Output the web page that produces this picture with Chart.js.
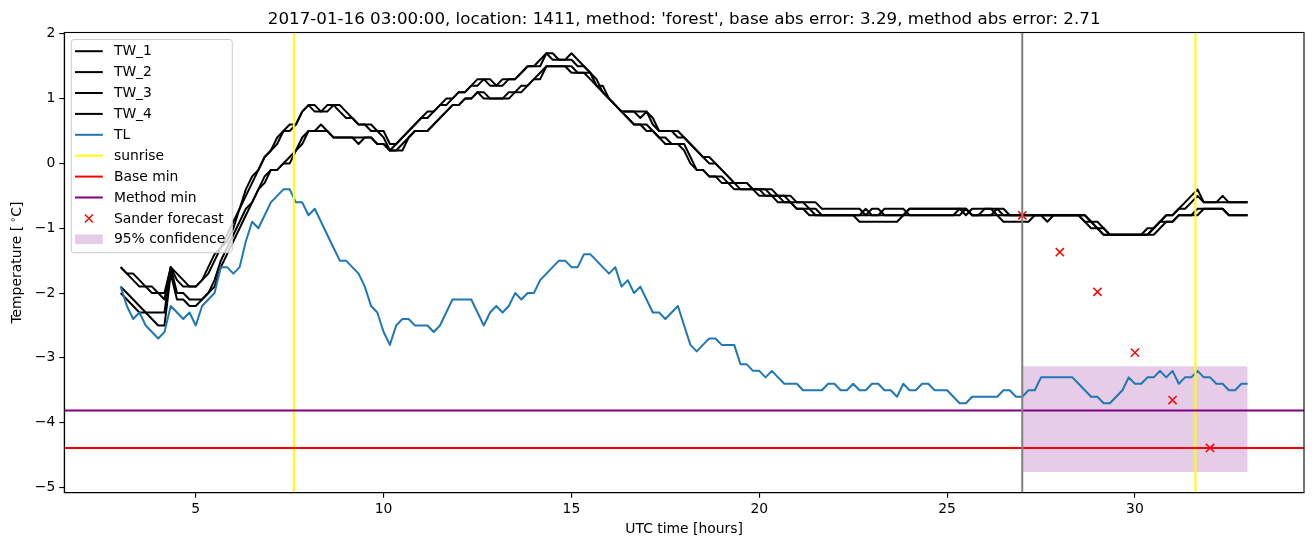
<!DOCTYPE html>
<html>
<head>
<meta charset="utf-8">
<script src="https://cdn.jsdelivr.net/npm/chart.js@4.4.1/dist/chart.umd.min.js"></script>
<style>
  html, body { margin: 0; padding: 0; background: #fff; }
  #wrap { width: 1313px; height: 547px; }
</style>
</head>
<body>
<div id="wrap"><canvas id="chart" width="1313" height="547"></canvas></div>
<script>
const titleText = "2017-01-16 03:00:00, location: 1411, method: 'forest', base abs error: 3.29, method abs error: 2.71";

// 10-minute observations from 03:00 to 33:00 UTC
const startHour = 3;
const stepHours = 1 / 6;

const tw1 = [
  -1.6, -1.7, -1.8, -1.9, -1.9, -2.0,
  -2.0, -2.0, -1.6, -1.7, -1.8, -1.9,
  -1.9, -1.8, -1.6, -1.4, -1.3, -1.2,
  -1.0, -0.7, -0.5, -0.3, -0.1, 0.1,
  0.2, 0.3, 0.5, 0.5, 0.6, 0.8,
  0.9, 0.9, 0.8, 0.8, 0.9, 0.9,
  0.8, 0.7, 0.6, 0.6, 0.6, 0.5,
  0.5, 0.3, 0.3, 0.4, 0.5, 0.6,
  0.7, 0.7, 0.8, 0.9, 1.0, 1.0,
  1.1, 1.1, 1.2, 1.2, 1.3, 1.3,
  1.2, 1.2, 1.3, 1.3, 1.4, 1.5,
  1.5, 1.5, 1.7, 1.7, 1.6, 1.6,
  1.6, 1.5, 1.5, 1.4, 1.2, 1.2,
  1.0, 0.9, 0.8, 0.8, 0.8, 0.8,
  0.8, 0.7, 0.5, 0.5, 0.5, 0.5,
  0.4, 0.3, 0.2, 0.1, 0.1, 0.0,
  -0.1, -0.2, -0.3, -0.3, -0.3, -0.4,
  -0.4, -0.4, -0.4, -0.5, -0.5, -0.5,
  -0.6, -0.6, -0.6, -0.6, -0.7, -0.7,
  -0.7, -0.7, -0.7, -0.7, -0.7, -0.8,
  -0.7, -0.7, -0.8, -0.8, -0.8, -0.8,
  -0.7, -0.7, -0.7, -0.7, -0.7, -0.7,
  -0.7, -0.7, -0.7, -0.8, -0.7, -0.7,
  -0.7, -0.7, -0.7, -0.8, -0.8, -0.8,
  -0.8, -0.8, -0.8, -0.8, -0.8, -0.8,
  -0.8, -0.8, -0.8, -0.8, -0.9, -1.0,
  -1.0, -1.1, -1.1, -1.1, -1.1, -1.1,
  -1.1, -1.1, -1.1, -1.0, -0.9, -0.8,
  -0.8, -0.7, -0.6, -0.5, -0.4, -0.6,
  -0.6, -0.6, -0.5, -0.6, -0.6, -0.6,
  -0.6
];
const tw2 = [
  -1.6, -1.7, -1.7, -1.8, -1.9, -1.9,
  -2.0, -2.1, -1.6, -1.8, -1.9, -1.9,
  -1.9, -1.8, -1.7, -1.5, -1.3, -1.1,
  -0.9, -0.7, -0.4, -0.2, -0.1, 0.1,
  0.2, 0.4, 0.5, 0.6, 0.6, 0.8,
  0.9, 0.8, 0.8, 0.9, 0.9, 0.8,
  0.7, 0.7, 0.6, 0.6, 0.5, 0.5,
  0.4, 0.2, 0.3, 0.4, 0.5, 0.6,
  0.7, 0.8, 0.8, 0.9, 0.9, 1.0,
  1.1, 1.1, 1.2, 1.3, 1.3, 1.2,
  1.2, 1.3, 1.3, 1.3, 1.4, 1.5,
  1.5, 1.6, 1.7, 1.6, 1.6, 1.6,
  1.7, 1.6, 1.5, 1.4, 1.3, 1.1,
  1.0, 0.9, 0.8, 0.8, 0.8, 0.7,
  0.8, 0.6, 0.5, 0.5, 0.5, 0.4,
  0.4, 0.3, 0.2, 0.1, 0.0, 0.0,
  -0.1, -0.2, -0.3, -0.3, -0.3, -0.4,
  -0.4, -0.4, -0.5, -0.5, -0.5, -0.6,
  -0.6, -0.6, -0.7, -0.7, -0.8, -0.8,
  -0.8, -0.8, -0.8, -0.8, -0.8, -0.7,
  -0.8, -0.8, -0.7, -0.7, -0.7, -0.7,
  -0.8, -0.8, -0.8, -0.8, -0.8, -0.8,
  -0.8, -0.8, -0.8, -0.7, -0.8, -0.8,
  -0.8, -0.8, -0.7, -0.7, -0.8, -0.8,
  -0.8, -0.8, -0.8, -0.8, -0.8, -0.8,
  -0.8, -0.8, -0.8, -0.8, -0.8, -0.9,
  -1.0, -1.0, -1.1, -1.1, -1.1, -1.1,
  -1.1, -1.1, -1.1, -1.0, -0.9, -0.9,
  -0.9, -0.8, -0.8, -0.8, -0.8, -0.7,
  -0.7, -0.7, -0.7, -0.8, -0.8, -0.8,
  -0.8
];
const tw3 = [
  -1.9, -2.0, -2.1, -2.2, -2.3, -2.3,
  -2.3, -2.3, -1.6, -2.0, -2.0, -2.1,
  -2.1, -2.1, -2.0, -1.8, -1.5, -1.3,
  -1.1, -0.9, -0.7, -0.6, -0.4, -0.2,
  -0.1, -0.1, 0.0, 0.0, 0.2, 0.4,
  0.5, 0.5, 0.6, 0.5, 0.4, 0.4,
  0.4, 0.4, 0.4, 0.4, 0.4, 0.3,
  0.3, 0.2, 0.2, 0.3, 0.4, 0.5,
  0.5, 0.5, 0.6, 0.7, 0.8, 0.9,
  0.9, 1.0, 1.0, 1.1, 1.1, 1.0,
  1.0, 1.0, 1.0, 1.1, 1.1, 1.2,
  1.3, 1.3, 1.5, 1.5, 1.5, 1.5,
  1.4, 1.4, 1.4, 1.4, 1.2, 1.1,
  1.0, 0.9, 0.8, 0.7, 0.6, 0.6,
  0.6, 0.5, 0.4, 0.3, 0.3, 0.3,
  0.3, 0.1, -0.1, -0.1, -0.2, -0.2,
  -0.2, -0.3, -0.3, -0.4, -0.4, -0.4,
  -0.4, -0.5, -0.5, -0.5, -0.6, -0.6,
  -0.7, -0.7, -0.7, -0.8, -0.8, -0.8,
  -0.8, -0.8, -0.8, -0.8, -0.9, -0.9,
  -0.9, -0.9, -0.9, -0.9, -0.9, -0.8,
  -0.7, -0.7, -0.7, -0.7, -0.7, -0.7,
  -0.7, -0.7, -0.7, -0.7, -0.8, -0.8,
  -0.8, -0.8, -0.8, -0.8, -0.8, -0.8,
  -0.8, -0.8, -0.8, -0.8, -0.9, -0.8,
  -0.8, -0.8, -0.8, -0.8, -0.8, -0.9,
  -0.9, -1.0, -1.1, -1.1, -1.1, -1.1,
  -1.1, -1.1, -1.0, -1.0, -0.9, -0.8,
  -0.8, -0.7, -0.7, -0.6, -0.5, -0.6,
  -0.6, -0.6, -0.6, -0.6, -0.6, -0.6,
  -0.6
];
const tw4 = [
  -2.0, -2.1, -2.2, -2.3, -2.3, -2.4,
  -2.5, -2.5, -1.7, -2.1, -2.1, -2.2,
  -2.2, -2.1, -2.0, -1.9, -1.6, -1.4,
  -1.2, -1.0, -0.8, -0.6, -0.4, -0.3,
  -0.1, -0.1, 0.0, 0.1, 0.2, 0.3,
  0.5, 0.5, 0.5, 0.5, 0.4, 0.4,
  0.4, 0.4, 0.3, 0.4, 0.4, 0.3,
  0.3, 0.2, 0.2, 0.2, 0.4, 0.5,
  0.5, 0.5, 0.6, 0.7, 0.8, 0.9,
  0.9, 1.0, 1.0, 1.1, 1.0, 1.0,
  1.0, 1.0, 1.1, 1.1, 1.2, 1.2,
  1.3, 1.4, 1.5, 1.5, 1.5, 1.5,
  1.5, 1.4, 1.4, 1.3, 1.2, 1.1,
  1.0, 0.9, 0.8, 0.7, 0.6, 0.6,
  0.5, 0.5, 0.4, 0.4, 0.3, 0.3,
  0.2, 0.0, -0.1, -0.1, -0.2, -0.2,
  -0.3, -0.3, -0.4, -0.4, -0.4, -0.4,
  -0.5, -0.5, -0.5, -0.6, -0.6, -0.6,
  -0.7, -0.7, -0.8, -0.8, -0.8, -0.8,
  -0.8, -0.8, -0.8, -0.8, -0.8, -0.8,
  -0.8, -0.8, -0.8, -0.8, -0.8, -0.8,
  -0.8, -0.8, -0.8, -0.8, -0.8, -0.8,
  -0.8, -0.8, -0.7, -0.7, -0.8, -0.8,
  -0.7, -0.7, -0.8, -0.9, -0.9, -0.9,
  -0.9, -0.9, -0.8, -0.8, -0.8, -0.8,
  -0.8, -0.8, -0.8, -0.8, -0.9, -0.9,
  -1.0, -1.1, -1.1, -1.1, -1.1, -1.1,
  -1.1, -1.1, -1.1, -1.1, -1.0, -0.9,
  -0.9, -0.8, -0.8, -0.8, -0.7, -0.7,
  -0.7, -0.7, -0.7, -0.8, -0.8, -0.8,
  -0.8
];
const tl = [
  -1.9, -2.2, -2.4, -2.3, -2.5, -2.6,
  -2.7, -2.6, -2.2, -2.3, -2.4, -2.3,
  -2.5, -2.2, -2.1, -2.0, -1.6, -1.6,
  -1.7, -1.6, -1.2, -0.9, -1.0, -0.8,
  -0.6, -0.5, -0.4, -0.4, -0.6, -0.6,
  -0.8, -0.7, -0.9, -1.1, -1.3, -1.5,
  -1.5, -1.6, -1.7, -1.9, -2.2, -2.3,
  -2.6, -2.8, -2.5, -2.4, -2.4, -2.5,
  -2.5, -2.5, -2.6, -2.5, -2.3, -2.1,
  -2.1, -2.1, -2.1, -2.3, -2.5, -2.3,
  -2.2, -2.3, -2.2, -2.0, -2.1, -2.0,
  -2.0, -1.8, -1.7, -1.6, -1.5, -1.5,
  -1.6, -1.6, -1.4, -1.4, -1.5, -1.6,
  -1.7, -1.6, -1.9, -1.8, -2.0, -1.9,
  -2.1, -2.3, -2.3, -2.4, -2.3, -2.2,
  -2.5, -2.8, -2.9, -2.8, -2.7, -2.7,
  -2.8, -2.8, -2.8, -3.1, -3.1, -3.2,
  -3.2, -3.3, -3.2, -3.3, -3.4, -3.4,
  -3.4, -3.5, -3.5, -3.5, -3.5, -3.4,
  -3.4, -3.5, -3.5, -3.4, -3.5, -3.5,
  -3.4, -3.4, -3.5, -3.5, -3.6, -3.4,
  -3.5, -3.5, -3.4, -3.4, -3.5, -3.5,
  -3.5, -3.6, -3.7, -3.7, -3.6, -3.6,
  -3.6, -3.6, -3.6, -3.5, -3.5, -3.6,
  -3.6, -3.5, -3.5, -3.3, -3.3, -3.3,
  -3.3, -3.3, -3.3, -3.4, -3.5, -3.6,
  -3.6, -3.7, -3.7, -3.6, -3.5, -3.3,
  -3.4, -3.4, -3.3, -3.3, -3.2, -3.3,
  -3.2, -3.4, -3.3, -3.3, -3.2, -3.3,
  -3.3, -3.4, -3.4, -3.5, -3.5, -3.4,
  -3.4
];

const sunriseHours = [7.61, 31.61];
const forecastStartHour = 27;
const baseMin = -4.39;
const methodMin = -3.81;
const forecastHours = [27, 28, 29, 30, 31, 32];
const forecastValues = [-0.8, -1.37, -1.98, -2.92, -3.65, -4.39];
const confHours = [27, 33];
const confLow = -4.76;
const confHigh = -3.13;

const xTicks = [5, 10, 15, 20, 25, 30];
const yTicks = [-5, -4, -3, -2, -1, 0, 1, 2];
const xMin = 1.5, xMax = 34.5, yMin = -5.08, yMax = 2.02;

const FONT = "'DejaVu Sans', sans-serif";
const toPoints = vals => vals.map((v, i) => ({ x: startHour + i * stepHours, y: v }));
const vline = xs => {
    const pts = [];
    xs.forEach((x, k) => {
        if (k > 0) pts.push({ x: x, y: null });
        pts.push({ x: x, y: yMin }, { x: x, y: yMax });
    });
    return pts;
};
const lineDs = (label, data, color, order, width) => ({
    label, data, borderColor: color, backgroundColor: color, borderWidth: width || 2,
    pointRadius: 0, tension: 0, fill: false, order, spanGaps: false,
    borderJoinStyle: 'round', borderCapStyle: 'butt'
});

const legendItems = [
    { label: 'TW_1', kind: 'line', color: '#000000' },
    { label: 'TW_2', kind: 'line', color: '#000000' },
    { label: 'TW_3', kind: 'line', color: '#000000' },
    { label: 'TW_4', kind: 'line', color: '#000000' },
    { label: 'TL', kind: 'line', color: '#1f77b4' },
    { label: 'sunrise', kind: 'line', color: '#ffff00' },
    { label: 'Base min', kind: 'line', color: '#ff0000' },
    { label: 'Method min', kind: 'line', color: '#800080' },
    { label: 'Sander forecast', kind: 'cross', color: '#ff0000' },
    { label: '95% confidence', kind: 'patch', color: 'rgba(128,0,128,0.2)' }
];

const decor = {
    id: 'decor',
    afterDatasetsDraw(chart) {
        const { ctx, chartArea: a } = chart;
        ctx.save();
        ctx.strokeStyle = '#000';
        ctx.lineWidth = 1.1;
        ctx.strokeRect(a.left, a.top, a.right - a.left, a.bottom - a.top);
        ctx.restore();
    },
    afterDraw(chart) {
        const { ctx, chartArea: a } = chart;
        const cx = (a.left + a.right) / 2;
        ctx.save();
        ctx.fillStyle = '#000';
        // title
        ctx.font = '16.7px ' + FONT;
        ctx.textAlign = 'center';
        ctx.textBaseline = 'alphabetic';
        ctx.fillText(titleText, cx, 24);
        // x label
        ctx.font = '13.9px ' + FONT;
        ctx.textBaseline = 'middle';
        ctx.fillText('UTC time [hours]', cx, 529);
        // y label with superscript ring
        ctx.translate(17, (a.top + a.bottom) / 2);
        ctx.rotate(-Math.PI / 2);
        const p1 = 'Temperature [', p3 = 'C]';
        ctx.font = '13.9px ' + FONT;
        const w1 = ctx.measureText(p1).width, w3 = ctx.measureText(p3).width;
        ctx.font = '9.7px ' + FONT;
        const w2 = ctx.measureText('\u2218').width;
        const total = w1 + 3 + w2 + w3;
        let x = -total / 2;
        ctx.textAlign = 'left';
        ctx.font = '13.9px ' + FONT;
        ctx.fillText(p1, x, 0);
        x += w1 + 3;
        ctx.font = '9.7px ' + FONT;
        ctx.fillText('\u2218', x, -4);
        x += w2;
        ctx.font = '13.9px ' + FONT;
        ctx.fillText(p3, x, 0);
        ctx.restore();

        // legend
        ctx.save();
        const bx = a.left + 7, by = a.top + 7, bw = 161, bh = 213.2, r = 2.8;
        ctx.beginPath();
        ctx.roundRect(bx, by, bw, bh, r);
        ctx.fillStyle = 'rgba(255,255,255,0.8)';
        ctx.fill();
        ctx.strokeStyle = '#cccccc';
        ctx.lineWidth = 1;
        ctx.stroke();
        ctx.font = '13.9px ' + FONT;
        ctx.textBaseline = 'middle';
        ctx.textAlign = 'left';
        legendItems.forEach((it, k) => {
            const y = by + 11.7 + k * 20.9;
            const hx0 = bx + 3.7, hx1 = hx0 + 27.8;
            if (it.kind === 'line') {
                ctx.strokeStyle = it.color;
                ctx.lineWidth = 2;
                ctx.beginPath();
                ctx.moveTo(hx0, y);
                ctx.lineTo(hx1, y);
                ctx.stroke();
            } else if (it.kind === 'cross') {
                const mx = (hx0 + hx1) / 2, s = 4;
                ctx.strokeStyle = it.color;
                ctx.lineWidth = 1.4;
                ctx.beginPath();
                ctx.moveTo(mx - s, y - s); ctx.lineTo(mx + s, y + s);
                ctx.moveTo(mx - s, y + s); ctx.lineTo(mx + s, y - s);
                ctx.stroke();
            } else {
                ctx.fillStyle = it.color;
                ctx.fillRect(hx0, y - 4.9, hx1 - hx0, 9.7);
            }
            ctx.fillStyle = '#000';
            ctx.fillText(it.label, hx1 + 11.1, y + 0.5);
        });
        ctx.restore();
    }
};

const tickFont = { family: FONT, size: 13.9 };
const minusFmt = v => (v < 0 ? '\u2212' + Math.abs(v) : String(v));

new Chart(document.getElementById('chart'), {
    type: 'line',
    data: {
        datasets: [
            lineDs('grey', vline([forecastStartHour]), '#808080', 1),
            {
                label: 'Sander forecast',
                data: forecastHours.map((h, i) => ({ x: h, y: forecastValues[i] })),
                showLine: false, pointStyle: 'crossRot', pointRadius: 5.8, pointHoverRadius: 5.8,
                pointBorderColor: '#ff0000', pointBackgroundColor: '#ff0000', pointBorderWidth: 1.5,
                borderColor: '#ff0000', order: 2
            },
            lineDs('Method min', [{ x: xMin, y: methodMin }, { x: xMax, y: methodMin }], '#800080', 3),
            lineDs('Base min', [{ x: xMin, y: baseMin }, { x: xMax, y: baseMin }], '#ff0000', 4),
            lineDs('sunrise', vline(sunriseHours), '#ffff00', 5),
            lineDs('TL', toPoints(tl), '#1f77b4', 6),
            lineDs('TW_4', toPoints(tw4), '#000000', 7),
            lineDs('TW_3', toPoints(tw3), '#000000', 8),
            lineDs('TW_2', toPoints(tw2), '#000000', 9),
            lineDs('TW_1', toPoints(tw1), '#000000', 10),
            {
                label: '95% confidence',
                data: confHours.map(h => ({ x: h, y: confHigh })),
                borderWidth: 0, pointRadius: 0, borderColor: 'rgba(0,0,0,0)',
                backgroundColor: 'rgba(128,0,128,0.2)',
                fill: { value: confLow }, order: 11
            }
        ]
    },
    options: {
        responsive: false,
        animation: false,
        devicePixelRatio: 1,
        layout: { padding: { top: 32.5, right: 9, left: 0, bottom: 0 } },
        plugins: {
            legend: { display: false },
            title: { display: false },
            tooltip: { enabled: false },
            filler: { drawTime: 'beforeDatasetsDraw' }
        },
        scales: {
            x: {
                type: 'linear', min: xMin, max: xMax,
                afterBuildTicks: s => { s.ticks = xTicks.map(v => ({ value: v })); },
                afterFit: s => { s.height = 54.3; },
                ticks: { color: '#000', font: tickFont, padding: 3.5, maxRotation: 0, autoSkip: false },
                grid: { drawOnChartArea: false, drawTicks: true, tickLength: 5, color: '#000', lineWidth: 1.1 },
                border: { display: true, color: '#000', width: 1.1 }
            },
            y: {
                type: 'linear', min: yMin, max: yMax,
                afterBuildTicks: s => { s.ticks = yTicks.map(v => ({ value: v })); },
                afterFit: s => { s.width = 64.3; },
                ticks: { color: '#000', font: tickFont, padding: 4, callback: minusFmt, autoSkip: false },
                grid: { drawOnChartArea: false, drawTicks: true, tickLength: 5, color: '#000', lineWidth: 1.1 },
                border: { display: true, color: '#000', width: 1.1 }
            }
        }
    },
    plugins: [decor]
});
</script>
</body>
</html>
